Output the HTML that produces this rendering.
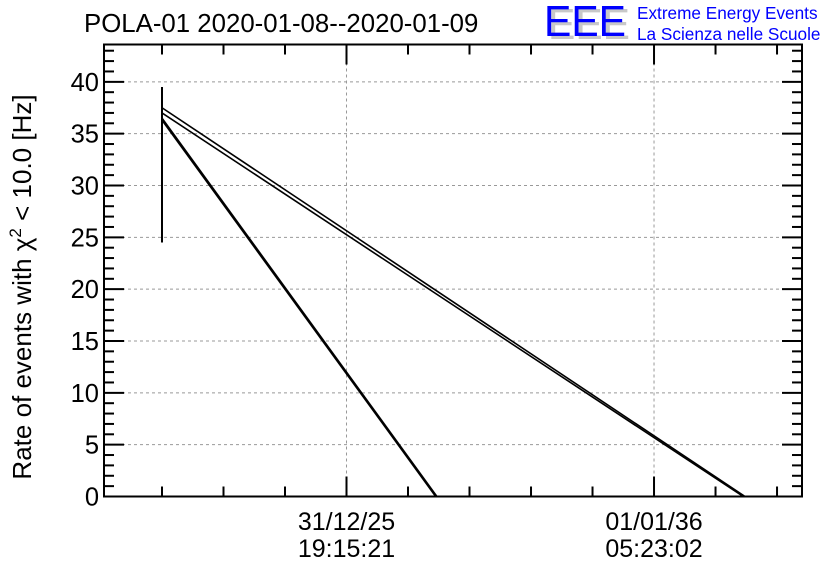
<!DOCTYPE html>
<html><head><meta charset="utf-8"><style>
body{margin:0;background:#fff;width:836px;height:572px;overflow:hidden}
svg{display:block;font-family:"Liberation Sans",sans-serif}
</style></head><body>
<svg id="chart" width="836" height="572">
<text x="84" y="32" font-size="25.8">POLA-01 2020-01-08--2020-01-09</text>
<g>
<text x="548" y="39" font-size="44" fill="#c8c8c8" textLength="82" lengthAdjust="spacingAndGlyphs">EEE</text>
<text x="544" y="36" font-size="44" fill="#0000ff" textLength="82" lengthAdjust="spacingAndGlyphs">EEE</text>
<text x="637" y="19" font-size="17.2" fill="#0000ff">Extreme Energy Events</text>
<text x="637" y="40" font-size="17.2" fill="#0000ff">La Scienza nelle Scuole</text>
</g>
<text transform="translate(31,287) rotate(-90)" text-anchor="middle" font-size="26">Rate of events with χ<tspan dy="-10" font-size="17">2</tspan><tspan dy="10"> &lt; 10.0 [Hz]</tspan></text>
<g id="grid"></g><g id="axes"></g><g id="series"></g>
<rect x="104" y="44.5" width="698" height="452" fill="none" stroke="#000" stroke-width="2"/>
</svg>
<script>
const yTicks=[0,5,10,15,20,25,30,35,40];
const xMajorTicks=[3,8];
const xTickLines1=["31/12/25","01/01/36"];
const xTickLines2=["19:15:21","05:23:02"];
const errBar=[0,24.5,39.5];
const seriesA=[[0,37.5],[9.48,0]];
const seriesB=[[0,37.0],[9.45,0]];
const seriesC=[[0,36.5],[4.47,0]];
const seriesD=[[0,36.3],[4.45,0]];
const L=104,R=802,T=44.5,B=496.5;
const yMax=43.6, x0=-0.943, x1=10.406;
const X=t=>L+(t-x0)/(x1-x0)*(R-L);
const Y=v=>B-v/yMax*(B-T);
const NS="http://www.w3.org/2000/svg";
function mk(tag,attrs,parent){const e=document.createElementNS(NS,tag);for(const k in attrs)e.setAttribute(k,attrs[k]);document.getElementById(parent).appendChild(e);return e;}
yTicks.forEach(v=>{
 const g=mk('line',{x1:L,x2:R,y1:Y(v),y2:Y(v),stroke:'#999','stroke-dasharray':'3,3'},'grid');
 
 
 mk('line',{x1:L,x2:L+20,y1:Y(v),y2:Y(v),stroke:'#000','stroke-width':2},'axes');
 mk('line',{x1:R,x2:R-20,y1:Y(v),y2:Y(v),stroke:'#000','stroke-width':2},'axes');
 const t=mk('text',{x:99,y:Y(v)+9,'text-anchor':'end','font-size':25.5},'axes');
 t.textContent=v;
 
 
});
for(let v=1;v<yMax;v++){if(v%5){mk('line',{x1:L,x2:L+10,y1:Y(v),y2:Y(v),stroke:'#000','stroke-width':2},'axes');mk('line',{x1:R,x2:R-10,y1:Y(v),y2:Y(v),stroke:'#000','stroke-width':2},'axes');}}
for(let t=0;t<=10;t++){const maj=xMajorTicks.includes(t);const len=maj?20:10;
 mk('line',{x1:X(t),x2:X(t),y1:B,y2:B-len,stroke:'#000','stroke-width':2},'axes');
 mk('line',{x1:X(t),x2:X(t),y1:T,y2:T+len,stroke:'#000','stroke-width':2},'axes');}
xMajorTicks.forEach((t,i)=>{
 const g=mk('line',{x1:X(t),x2:X(t),y1:T,y2:B,stroke:'#999','stroke-dasharray':'3,3'},'grid');
 
 
 const a=mk('text',{x:X(t),y:530,'text-anchor':'middle','font-size':25},'axes');a.textContent=xTickLines1[i];
 
 
 const b=mk('text',{x:X(t),y:557,'text-anchor':'middle','font-size':25},'axes');b.textContent=xTickLines2[i];
 
 
});
const eb=mk('line',{x1:X(errBar[0]),x2:X(errBar[0]),y1:Y(errBar[1]),y2:Y(errBar[2]),stroke:'#000','stroke-width':2},'series');


[[seriesA,'series-a'],[seriesB,'series-b'],[seriesC,'series-c'],[seriesD,'series-d']].forEach(([s,n])=>{
 const p=mk('polyline',{points:s.map(d=>X(d[0])+','+Y(d[1])).join(' '),fill:'none',stroke:'#000','stroke-width':1.6},'series');
 
 
});
</script>
</body></html>
